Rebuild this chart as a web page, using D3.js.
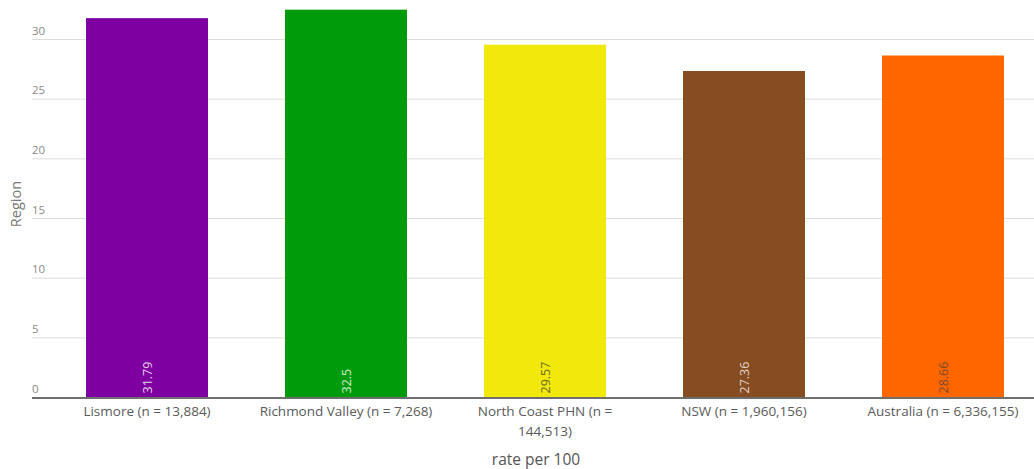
<!DOCTYPE html>
<html>
<head>
<meta charset="utf-8">
<script src="https://cdn.jsdelivr.net/npm/d3@7"></script>
<style>
  html, body { margin: 0; padding: 0; background: #fff; overflow: hidden; }
  svg { display: block; font-family: "Open Sans", "Noto Sans", sans-serif; }
</style>
</head>
<body>
<svg id="chart" width="1034" height="469"></svg>
<script>
// Regions and their rates
const categories = [
  ["Lismore (n = 13,884)"],
  ["Richmond Valley (n = 7,268)"],
  ["North Coast PHN (n =", "144,513)"],
  ["NSW (n = 1,960,156)"],
  ["Australia (n = 6,336,155)"]
];
const values = [31.79, 32.5, 29.57, 27.36, 28.66];
const barColors = ["#7f00a0", "#009b0a", "#f1e90c", "#864c22", "#ff6600"];
const labelColors = ["#e6d0ec", "#cfeccf", "#6b6a20", "#e2d2c6", "#7a4a2a"];
const yTicks = [0, 5, 10, 15, 20, 25, 30];

const svg = d3.select("#chart");
const plotLeft = 32, plotRight = 1034, plotTop = 0, plotBottom = 397.5;

const x = d3.scaleBand()
  .domain(d3.range(values.length))
  .range([47.5, 1042.5])
  .paddingInner(0.387)
  .paddingOuter(0.1935);

const y = d3.scaleLinear().domain([0, 30]).range([plotBottom, 39.5]);

// gridlines and tick labels
const grid = svg.append("g");
grid.selectAll("line").data(yTicks.filter(d => d > 0)).join("line")
  .attr("x1", plotLeft).attr("x2", plotRight)
  .attr("y1", d => y(d)).attr("y2", d => y(d))
  .attr("stroke", "#dcdcdc").attr("stroke-width", 1);
grid.selectAll("text").data(yTicks).join("text")
  .attr("x", plotLeft).attr("y", d => y(d) - 5)
  .attr("font-size", 11.5).attr("fill", "#8a8a8a")
  .text(d => d);

// bars
svg.append("g").selectAll("rect").data(values).join("rect")
  .attr("x", (d, i) => x(i))
  .attr("width", x.bandwidth())
  .attr("y", d => y(d))
  .attr("height", d => plotBottom - y(d))
  .attr("fill", (d, i) => barColors[i]);

// value labels inside bars, reading upward
svg.append("g").selectAll("text").data(values).join("text")
  .attr("transform", (d, i) => `translate(${x(i) + x.bandwidth() / 2 + 4.5},${plotBottom - 4}) rotate(-90)`)
  .attr("font-size", 12.5)
  .attr("fill", (d, i) => labelColors[i])
  .text(d => d);

// baseline
svg.append("line")
  .attr("x1", plotLeft).attr("x2", plotRight)
  .attr("y1", plotBottom + 0.5).attr("y2", plotBottom + 0.5)
  .attr("stroke", "#6e6e6e").attr("stroke-width", 2);

// category labels
const cat = svg.append("g").selectAll("text").data(categories).join("text")
  .attr("x", (d, i) => x(i) + x.bandwidth() / 2)
  .attr("y", plotBottom + 18)
  .attr("text-anchor", "middle")
  .attr("font-size", 13.5)
  .attr("fill", "#5a5a5a");
cat.selectAll("tspan").data(d => d).join("tspan")
  .attr("x", function () { return d3.select(this.parentNode).attr("x"); })
  .attr("dy", (d, j) => j === 0 ? 0 : 20)
  .text(d => d);

// axis titles
svg.append("text")
  .attr("x", 536).attr("y", 465)
  .attr("text-anchor", "middle")
  .attr("font-size", 15.5).attr("fill", "#555")
  .text("rate per 100");

svg.append("text")
  .attr("transform", `translate(21,204) rotate(-90)`)
  .attr("text-anchor", "middle")
  .attr("font-size", 14.5).attr("fill", "#777")
  .text("Region");
</script>
</body>
</html>
